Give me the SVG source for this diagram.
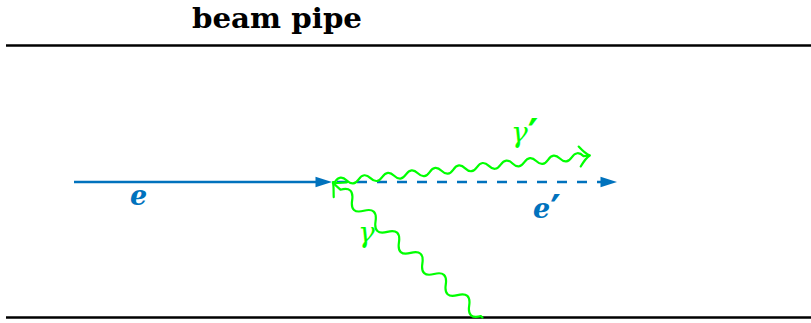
<svg xmlns="http://www.w3.org/2000/svg" width="811" height="323" viewBox="0 0 811 323">
  <style>
    .pipe { stroke: #000; stroke-width: 2.4; fill: none; }
    .elec { stroke: #0072bd; stroke-width: 2.3; fill: none; }
    .phot { stroke: #00ff00; stroke-width: 2.2; fill: none; stroke-linecap: round; stroke-linejoin: round; }
    .head { fill: #0072bd; }
    .lblE { font-family: "DejaVu Serif", serif; font-weight: bold; font-style: italic; font-size: 27px; fill: #0072bd; }
    .lblG { font-family: "DejaVu Serif", serif; font-style: italic; font-size: 28px; fill: #00ff00; }
    .prime { font-family: "DejaVu Sans", sans-serif; font-style: normal; font-weight: bold; font-size: 40px; }
    .title { font-family: "DejaVu Serif", "Liberation Serif", serif; font-weight: bold; font-size: 27px; fill: #000; }
  </style>
  <rect width="811" height="323" fill="#fff"/>
  <g id="beam-pipe">
    <line class="pipe" x1="6" y1="45.5" x2="811" y2="45.5"/>
    <line class="pipe" x1="6" y1="317.5" x2="811" y2="317.5"/>
    <text class="title" x="192" y="28" textLength="170" lengthAdjust="spacingAndGlyphs">beam pipe</text>
  </g>
  <g id="connectors">
    <g id="electron-in">
      <line class="elec" x1="74" y1="182" x2="318" y2="182"/>
      <polygon class="head" points="332,182 315.5,176.8 315.5,187.2"/>
    </g>
    <g id="electron-out">
      <line class="elec" x1="332" y1="182" x2="604" y2="182" stroke-dasharray="10 10" stroke-dashoffset="15"/>
      <polygon class="head" points="617,182 600.5,176.8 600.5,187.2"/>
    </g>
    <g id="photon-out" transform="translate(333,182) rotate(-5.9)">
      <path class="phot" d="M0,0 L2,0 q5.95,-7 11.9,0 t11.9,0 t11.9,0 t11.9,0 t11.9,0 t11.9,0 t11.9,0 t11.9,0 t11.9,0 t11.9,0 t11.9,0 t11.9,0 t11.9,0 t11.9,0 t11.9,0 t11.9,0 t11.9,0 t11.9,0 t11.9,0 t11.9,0 t11.9,0 L258,0"/>
      <path class="phot" d="M248,-10 C251,-6 254,-2 258,0 C254,2 251,6 248,10"/>
    </g>
    <g id="photon-in" transform="translate(333,183) rotate(42)">
      <path class="phot" d="M0,0 L10,0 q7.875,-12 15.75,0 t15.75,0 t15.75,0 t15.75,0 t15.75,0 t15.75,0 t15.75,0 t15.75,0 t15.75,0 t15.75,0 t15.75,0 t15.75,0 L201,0"/>
      <path class="phot" d="M10,-10 C6,-6 3,-2 0,0 C3,2 6,6 10,10"/>
    </g>
  </g>
  <g id="labels">
    <text class="lblE" x="533" y="218">e<tspan class="prime" dy="6">′</tspan></text>
    <text class="lblE" x="130" y="205">e</text>
    <text class="lblG" x="511" y="142">γ<tspan class="prime" font-weight="normal" dy="6">′</tspan></text>
    <text class="lblG" x="358" y="242">γ</text>
  </g>
</svg>
